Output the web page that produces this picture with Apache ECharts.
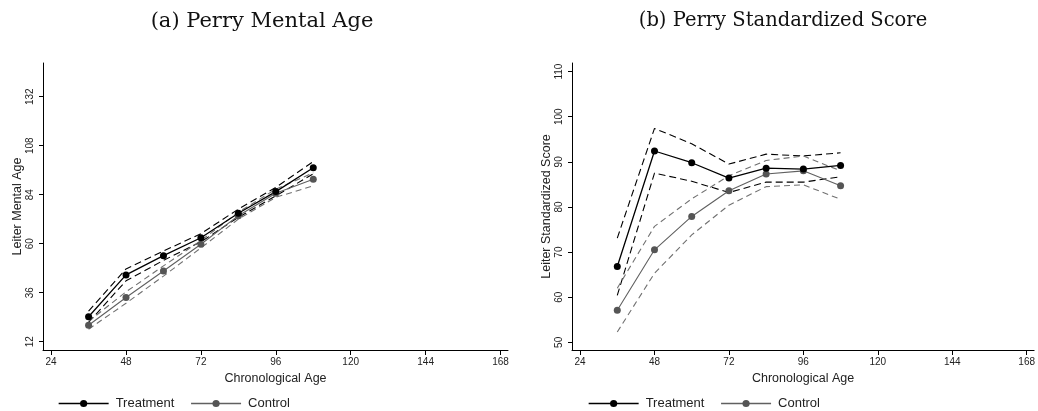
<!DOCTYPE html>
<html>
<head>
<meta charset="utf-8">
<script src="https://cdn.jsdelivr.net/npm/echarts@6/dist/echarts.min.js"></script>
<style>html,body{margin:0;padding:0;background:#fff}#c{width:1038px;height:411px}</style>
</head>
<body>
<div id="c"></div>
<script>
// ---------- data ----------
const ages = [36, 48, 60, 72, 84, 96, 108];
const xTicks = [24, 48, 72, 96, 120, 144, 168];

// (a) Leiter mental age
const mentalTicks = [12, 36, 60, 84, 108, 132];
const mentalTreat = [24.2, 44.7, 54.1, 62.9, 74.9, 85.5, 97.2];
const mentalTreatHi = [27.0, 47.6, 56.4, 64.9, 76.9, 87.6, 100.2];
const mentalTreatLo = [21.4, 41.8, 51.8, 60.9, 72.9, 83.4, 94.2];
const mentalCtrl = [20.0, 33.6, 46.6, 59.7, 73.7, 84.7, 91.5];
const mentalCtrlHi = [21.9, 36.4, 49.1, 61.5, 75.4, 86.7, 94.7];
const mentalCtrlLo = [18.1, 30.8, 44.1, 57.9, 72.0, 82.7, 88.3];

// (b) Leiter standardized score
const scoreTicks = [50, 60, 70, 80, 90, 100, 110];
const scoreTreat = [66.8, 92.4, 89.8, 86.4, 88.6, 88.4, 89.2];
const scoreTreatHi = [73.1, 97.4, 94.0, 89.5, 91.7, 91.3, 92.0];
const scoreTreatLo = [60.4, 87.5, 85.7, 83.2, 85.5, 85.5, 86.7];
const scoreCtrl = [57.1, 70.5, 77.9, 83.6, 87.3, 88.0, 84.7];
const scoreCtrlHi = [62.0, 75.7, 81.8, 86.9, 90.3, 91.3, 88.0];
const scoreCtrlLo = [52.3, 65.3, 73.8, 80.4, 84.5, 84.9, 81.7];

const titles = ['(a) Perry Mental Age', '(b) Perry Standardized Score'];
const yNames = ['Leiter Mental Age', 'Leiter Standardized Score'];
const xName = 'Chronological Age';
const groupNames = ['Treatment', 'Control'];

// ---------- helpers ----------
const pairs = (ys) => ages.map((a, i) => [a, ys[i]]);
const SANS = 'Liberation Sans, Arial, Helvetica, sans-serif';
const TREAT = '#000000';
const CTRL = '#555555';
const CTRL_LINE = '#606060';
const CTRL_DASH = '#707070';

function xAxis(gi) {
  return {
    type: 'value', gridIndex: gi, min: 21.4, max: 170.4,
    name: xName, nameLocation: 'middle', nameGap: 17,
    nameTextStyle: {fontFamily: SANS, fontSize: 12.5, color: '#222'},
    axisLine: {show: true, lineStyle: {color: '#000', width: 1}},
    axisTick: {show: true, length: 5, inside: false, customValues: xTicks, lineStyle: {color: '#000'}},
    axisLabel: {customValues: xTicks, fontFamily: SANS, fontSize: 10, color: '#222', margin: 7},
    splitLine: {show: false}
  };
}
function yAxis(gi, ticks, min, max, name) {
  return {
    type: 'value', gridIndex: gi, min: min, max: max,
    name: name, nameLocation: 'middle', nameGap: 19,
    nameTextStyle: {fontFamily: SANS, fontSize: 12.5, color: '#222'},
    axisLine: {show: true, lineStyle: {color: '#000', width: 1}},
    axisTick: {show: true, length: 4, inside: false, customValues: ticks, lineStyle: {color: '#000'}},
    axisLabel: {customValues: ticks, rotate: 90, fontFamily: SANS, fontSize: 10, color: '#222', margin: 8},
    splitLine: {show: false}
  };
}
function meanSeries(gi, name, ys, color, lineColor, width) {
  return {
    type: 'line', name: name, xAxisIndex: gi, yAxisIndex: gi, data: pairs(ys),
    symbol: 'circle', symbolSize: 7, showSymbol: true,
    lineStyle: {color: lineColor, width: width},
    itemStyle: {color: color},
    emphasis: {disabled: true}, z: 5, animation: false
  };
}
function bandSeries(gi, name, ys, color, dash) {
  return {
    type: 'line', name: name, xAxisIndex: gi, yAxisIndex: gi, data: pairs(ys),
    symbol: 'none', showSymbol: false,
    lineStyle: {color: color, width: 1.1, type: dash},
    emphasis: {disabled: true}, z: 3, animation: false
  };
}
function legend(left) {
  return {
    left: left, top: 392, data: groupNames, itemWidth: 50, itemHeight: 9, itemGap: 16,
    textStyle: {fontFamily: SANS, fontSize: 13, color: '#222', padding: [0, 0, 0, 2]},
    lineStyle: {width: 1.3},
    selectedMode: false
  };
}

const option = {
  backgroundColor: '#fff',
  animation: false,
  title: [
    {text: titles[0], left: 257, top: 6, textAlign: 'center',
     textStyle: {fontFamily: 'DejaVu Serif, serif', fontWeight: 'normal', fontSize: 21, color: '#111'}},
    {text: titles[1], left: 778, top: 6, textAlign: 'center',
     textStyle: {fontFamily: 'DejaVu Serif, serif', fontWeight: 'normal', fontSize: 19.5, color: '#111'}}
  ],
  legend: [legend(53), legend(583)],
  grid: [
    {left: 43, top: 63, width: 465, height: 287, containLabel: false},
    {left: 572, top: 63, width: 465, height: 287, containLabel: false}
  ],
  xAxis: [xAxis(0), xAxis(1)],
  yAxis: [
    yAxis(0, mentalTicks, 7.9, 148.5, yNames[0]),
    yAxis(1, scoreTicks, 48.3, 111.9, yNames[1])
  ],
  series: [
    bandSeries(0, 'T hi a', mentalTreatHi, TREAT, [7, 4]),
    bandSeries(0, 'T lo a', mentalTreatLo, TREAT, [7, 4]),
    bandSeries(0, 'C hi a', mentalCtrlHi, CTRL_DASH, [6, 4]),
    bandSeries(0, 'C lo a', mentalCtrlLo, CTRL_DASH, [6, 4]),
    meanSeries(0, groupNames[1], mentalCtrl, CTRL, CTRL_LINE, 1.1),
    meanSeries(0, groupNames[0], mentalTreat, TREAT, TREAT, 1.3),
    bandSeries(1, 'T hi b', scoreTreatHi, TREAT, [7, 4]),
    bandSeries(1, 'T lo b', scoreTreatLo, TREAT, [7, 4]),
    bandSeries(1, 'C hi b', scoreCtrlHi, CTRL_DASH, [6, 4]),
    bandSeries(1, 'C lo b', scoreCtrlLo, CTRL_DASH, [6, 4]),
    meanSeries(1, groupNames[1], scoreCtrl, CTRL, CTRL_LINE, 1.1),
    meanSeries(1, groupNames[0], scoreTreat, TREAT, TREAT, 1.3)
  ]
};
const chart = echarts.init(document.getElementById('c'), null, {renderer: 'canvas'});
chart.setOption(option);
</script>
</body>
</html>
